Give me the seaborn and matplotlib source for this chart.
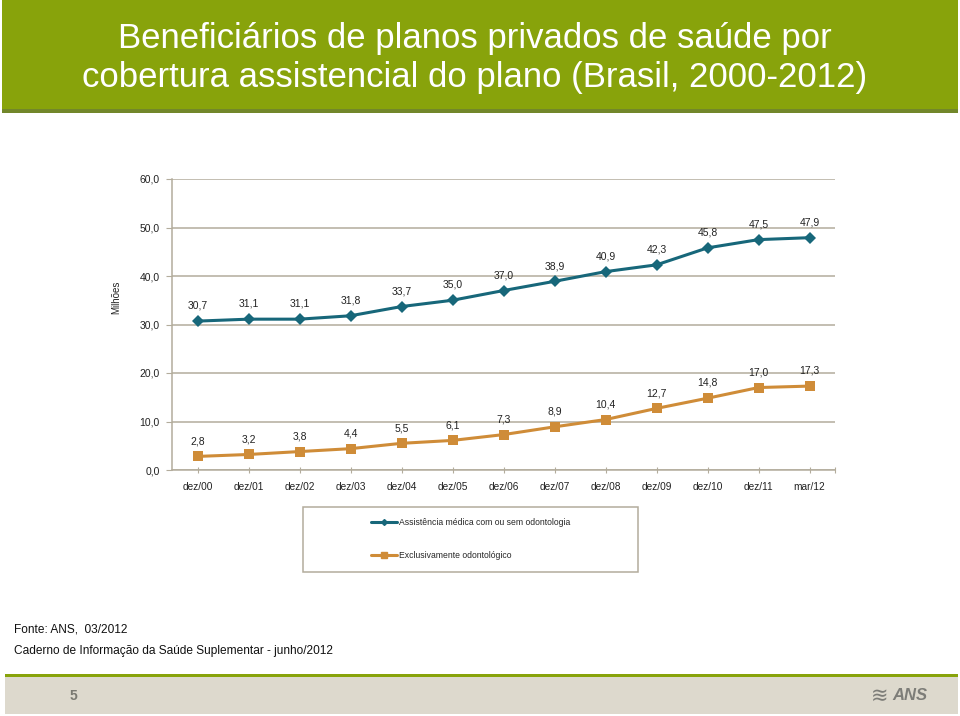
import pandas as pd
import matplotlib
matplotlib.use("Agg")
import matplotlib.pyplot as plt
import seaborn as sns
from matplotlib.patches import Rectangle
from matplotlib.lines import Line2D
from matplotlib.ticker import FuncFormatter, FixedLocator

# data (milhoes de beneficiarios)
periodos = ["dez/00", "dez/01", "dez/02", "dez/03", "dez/04", "dez/05", "dez/06",
            "dez/07", "dez/08", "dez/09", "dez/10", "dez/11", "mar/12"]
medica = [30.7, 31.1, 31.1, 31.8, 33.7, 35.0, 37.0, 38.9, 40.9, 42.3, 45.8, 47.5, 47.9]
odonto = [2.8, 3.2, 3.8, 4.4, 5.5, 6.1, 7.3, 8.9, 10.4, 12.7, 14.8, 17.0, 17.3]

serie_med = "Assistência médica com ou sem odontologia"
serie_odo = "Exclusivamente odontológico"

titulo = "Beneficiários de planos privados de saúde por\ncobertura assistencial do plano (Brasil, 2000-2012)"
fonte = "Fonte: ANS,  03/2012"
caderno = "Caderno de Informação da Saúde Suplementar - junho/2012"

azul = "#17677A"
laranja = "#CF8C38"
cinza = "#B3AC9C"
verde = "#88A30B"

df = pd.DataFrame({
    "periodo": periodos * 2,
    "valor": medica + odonto,
    "serie": [serie_med] * len(periodos) + [serie_odo] * len(periodos),
})

sns.set_style("white")
plt.rcParams["font.family"] = ["Liberation Sans", "DejaVu Sans"]

W, H = 960, 716
fig = plt.figure(figsize=(W / 100, H / 100), dpi=100)

def fx(x):
    return x / W

def fy(y):
    return 1 - y / H

# green header band
fig.patches.append(Rectangle((fx(2), fy(109)), fx(956), 109 / H, transform=fig.transFigure,
                             facecolor=verde, edgecolor="none", zorder=0))
fig.patches.append(Rectangle((fx(2), fy(113)), fx(956), 4 / H, transform=fig.transFigure,
                             facecolor="#72872A", edgecolor="none", zorder=0))
fig.text(fx(475), fy(58), titulo, ha="center", va="center", color="white", fontsize=25,
         linespacing=1.22)

# chart area
ax = fig.add_axes([fx(172), fy(470), fx(835 - 172), (470 - 179) / H])
sns.lineplot(data=df, x="periodo", y="valor", hue="serie", style="serie",
             palette={serie_med: azul, serie_odo: laranja},
             markers={serie_med: "D", serie_odo: "s"}, dashes=False, sort=False,
             errorbar=None, linewidth=2.2, markersize=6.5, markeredgewidth=0, ax=ax, legend=False)

ax.set_xlim(-0.5, 12.5)
ax.set_ylim(0, 60)
ax.yaxis.set_major_locator(FixedLocator([0, 10, 20, 30, 40, 50, 60]))
ax.yaxis.set_major_formatter(FuncFormatter(lambda v, p: f"{v:.1f}".replace(".", ",")))
ax.grid(axis="y", color=cinza, linewidth=1.1)
ax.grid(axis="x", visible=False)
ax.set_axisbelow(True)
for s in ["top", "right"]:
    ax.spines[s].set_visible(False)
for s in ["left", "bottom"]:
    ax.spines[s].set_color(cinza)
    ax.spines[s].set_linewidth(1.1)
ax.tick_params(axis="y", left=True, length=4, color=cinza, labelsize=7.5, labelcolor="#222222", pad=5)
ax.tick_params(axis="x", bottom=True, direction="inout", length=5, color=cinza,
               labelsize=7.3, labelcolor="#222222", pad=6)
ax.set_xticks(list(range(len(periodos))) + [12.5])
ax.set_xticklabels(periodos + [""])
ax.set_xlabel("")
ax.set_ylabel("")

# data labels
for i, v in enumerate(medica):
    ax.annotate(f"{v:.1f}".replace(".", ","), (i, v), xytext=(0, 11), textcoords="offset points",
                ha="center", va="center", fontsize=7.5, color="#222222")
for i, v in enumerate(odonto):
    ax.annotate(f"{v:.1f}".replace(".", ","), (i, v), xytext=(0, 11), textcoords="offset points",
                ha="center", va="center", fontsize=7.5, color="#222222")

fig.text(fx(116), fy(297), "Milhões", rotation=90, ha="center", va="center", fontsize=7, color="#222222")

# legend box
fig.patches.append(Rectangle((fx(303), fy(572)), fx(638 - 303), (572 - 507) / H, transform=fig.transFigure,
                             facecolor="white", edgecolor=cinza, linewidth=1.1))
handles = [Line2D([], [], color=azul, marker="D", markersize=3, linewidth=2.2),
           Line2D([], [], color=laranja, marker="s", markersize=4, linewidth=2.2)]
fig.legend(handles, [serie_med, serie_odo], loc="center", bbox_to_anchor=(fx(471), fy(539)),
           frameon=False, fontsize=6.2, handlelength=3.0, handletextpad=0.25, labelspacing=2.75)

# source notes
fig.text(fx(14), fy(630), fonte, ha="left", va="center", fontsize=8.6, color="#111111")
fig.text(fx(14), fy(651), caderno, ha="left", va="center", fontsize=8.6, color="#111111")

# footer band
fig.patches.append(Rectangle((fx(5), fy(677)), fx(953), 3 / H, transform=fig.transFigure,
                             facecolor=verde, edgecolor="none"))
fig.patches.append(Rectangle((fx(5), fy(714)), fx(953), 37 / H, transform=fig.transFigure,
                             facecolor="#DDD9CD", edgecolor="none"))
fig.text(fx(73), fy(696), "5", ha="center", va="center", fontsize=10, color="#7A7A72", weight="bold")
fig.text(fx(910), fy(696), "ANS", ha="center", va="center", fontsize=12, color="#7D7D78", weight="bold",
         style="italic")
fig.text(fx(880), fy(696), "≋", ha="center", va="center", fontsize=15, color="#7D7D78")

fig.savefig("out.png", dpi=100)
